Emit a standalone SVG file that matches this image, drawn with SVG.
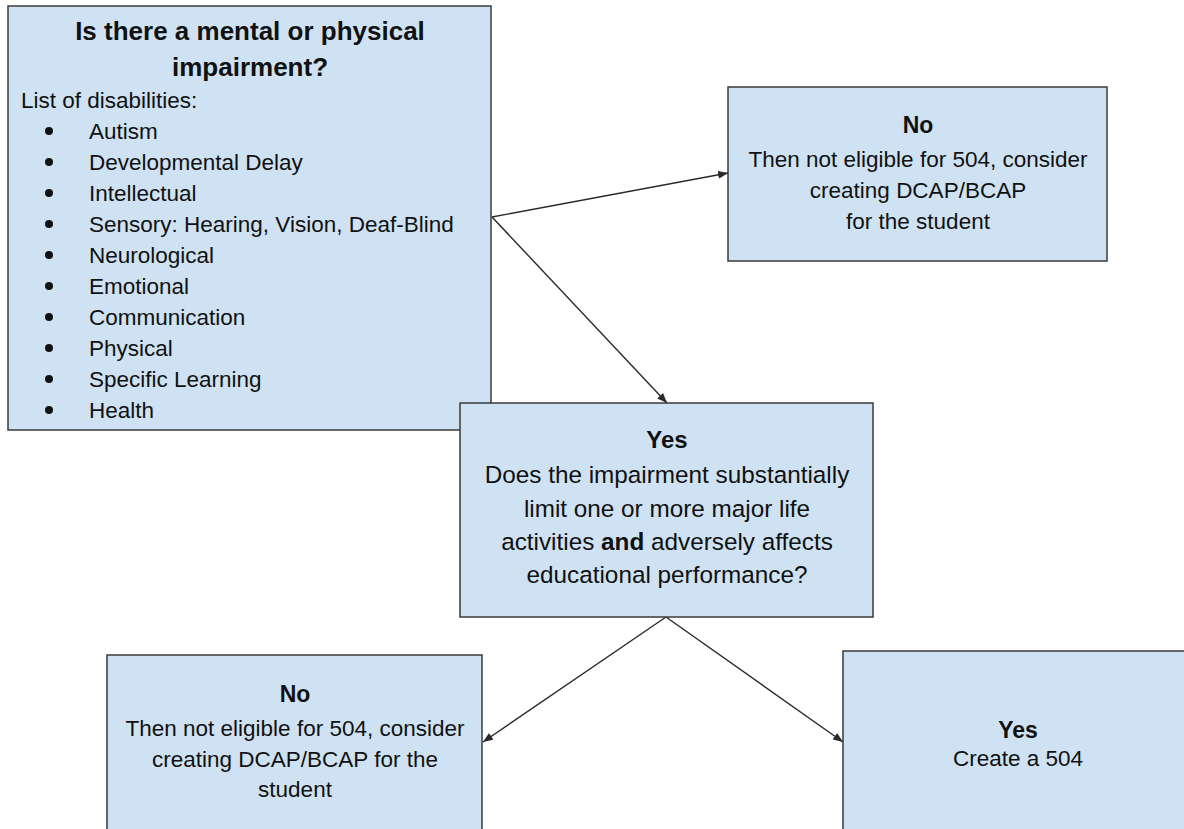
<svg xmlns="http://www.w3.org/2000/svg" width="1184" height="829" viewBox="0 0 1184 829">
<defs>
<style>
.box{fill:#cfe2f3;stroke:#3a3a3a;stroke-width:1.5}
.t{font-family:"Liberation Sans",Arial,sans-serif;font-size:22.5px;fill:#111}
.c{text-anchor:middle}
.h{font-weight:bold;font-size:23px}
.m{font-size:24.3px}
.mh{font-weight:bold;font-size:24px}
.title{font-weight:bold;font-size:26px}
.conn{stroke:#2a2a2a;stroke-width:1.4;fill:none;marker-end:url(#arr)}
.bul{fill:#111}
</style>
<marker id="arr" markerUnits="userSpaceOnUse" markerWidth="10" markerHeight="8" refX="10" refY="4" orient="auto">
<path d="M0,0 L10,4 L0,8 z" fill="#2a2a2a"/>
</marker>
</defs>
<rect width="1184" height="829" fill="#ffffff"/>
<g id="connectors">
<path class="conn" d="M492,217 L728,173"/>
<path class="conn" d="M492,217 L667,403"/>
<path class="conn" d="M666,617 L483,742"/>
<path class="conn" d="M666,617 L843,742"/>
</g>
<g id="impairment">
<rect class="box" x="8" y="6" width="483" height="424"/>
<text class="t c title" x="250" y="40">Is there a mental or physical</text>
<text class="t c title" x="250" y="76">impairment?</text>
<text class="t" x="21" y="107.5">List of disabilities:</text>
<g class="bul">
<circle cx="49" cy="131" r="4"/>
<circle cx="49" cy="162" r="4"/>
<circle cx="49" cy="193" r="4"/>
<circle cx="49" cy="224" r="4"/>
<circle cx="49" cy="255" r="4"/>
<circle cx="49" cy="286" r="4"/>
<circle cx="49" cy="317" r="4"/>
<circle cx="49" cy="348" r="4"/>
<circle cx="49" cy="379" r="4"/>
<circle cx="49" cy="410" r="4"/>
</g>
<text class="t" x="89" y="138.5">Autism</text>
<text class="t" x="89" y="169.5">Developmental Delay</text>
<text class="t" x="89" y="200.5">Intellectual</text>
<text class="t" x="89" y="231.5">Sensory: Hearing, Vision, Deaf-Blind</text>
<text class="t" x="89" y="262.5">Neurological</text>
<text class="t" x="89" y="293.5">Emotional</text>
<text class="t" x="89" y="324.5">Communication</text>
<text class="t" x="89" y="355.5">Physical</text>
<text class="t" x="89" y="386.5">Specific Learning</text>
<text class="t" x="89" y="417.5">Health</text>
</g>
<g id="no-top">
<rect class="box" x="728" y="87" width="379" height="174"/>
<text class="t c h" x="918" y="133">No</text>
<text class="t c" x="918" y="167">Then not eligible for 504, consider</text>
<text class="t c" x="918" y="198">creating DCAP/BCAP</text>
<text class="t c" x="918" y="228.5">for the student</text>
</g>
<g id="yes-middle">
<rect class="box" x="460" y="403" width="413" height="214"/>
<text class="t c mh" x="667" y="448">Yes</text>
<text class="t c m" x="667" y="483">Does the impairment substantially</text>
<text class="t c m" x="667" y="516.5">limit one or more major life</text>
<text class="t c m" x="667" y="550">activities <tspan font-weight="bold">and</tspan> adversely affects</text>
<text class="t c m" x="667" y="583">educational performance?</text>
</g>
<g id="no-bottom">
<rect class="box" x="107" y="655" width="375" height="200"/>
<text class="t c h" x="295" y="701.5">No</text>
<text class="t c" x="295" y="736">Then not eligible for 504, consider</text>
<text class="t c" x="295" y="766.5">creating DCAP/BCAP for the</text>
<text class="t c" x="295" y="797">student</text>
</g>
<g id="yes-bottom">
<rect class="box" x="843" y="651" width="360" height="200"/>
<text class="t c h" x="1018" y="738">Yes</text>
<text class="t c" x="1018" y="766">Create a 504</text>
</g>
</svg>
